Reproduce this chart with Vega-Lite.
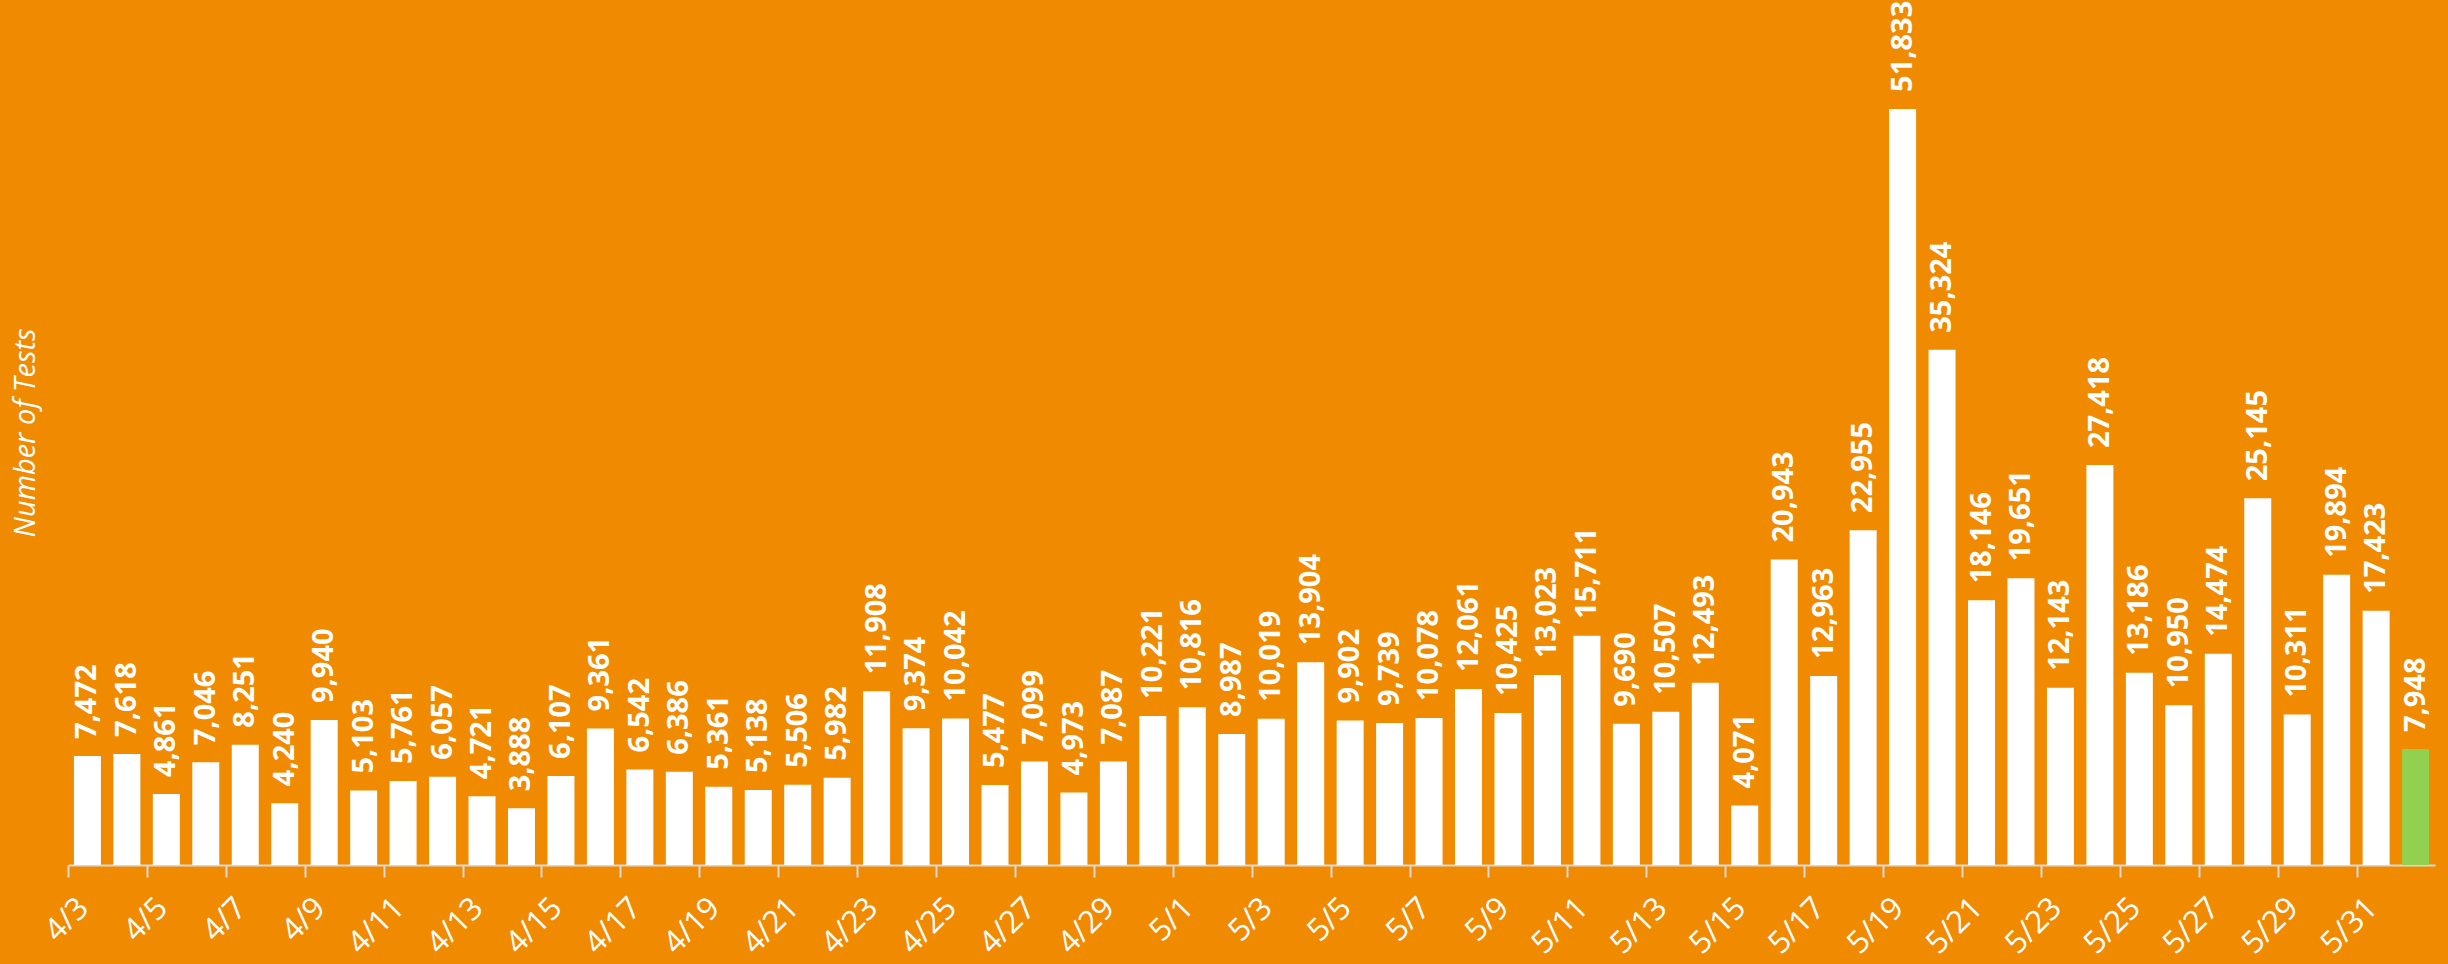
{
  "$schema": "https://vega.github.io/schema/vega-lite/v6.json",
  "autosize": {"type": "none"},
  "width": 2367,
  "height": 865,
  "padding": {"left": 68, "top": 0, "right": 13, "bottom": 99},
  "background": "#F08A00",
  "config": {"view": {"stroke": null}},
  "data": {"values": [
    {"date": "4/3", "tests": 7472}, {"date": "4/4", "tests": 7618}, {"date": "4/5", "tests": 4861},
    {"date": "4/6", "tests": 7046}, {"date": "4/7", "tests": 8251}, {"date": "4/8", "tests": 4240},
    {"date": "4/9", "tests": 9940}, {"date": "4/10", "tests": 5103}, {"date": "4/11", "tests": 5761},
    {"date": "4/12", "tests": 6057}, {"date": "4/13", "tests": 4721}, {"date": "4/14", "tests": 3888},
    {"date": "4/15", "tests": 6107}, {"date": "4/16", "tests": 9361}, {"date": "4/17", "tests": 6542},
    {"date": "4/18", "tests": 6386}, {"date": "4/19", "tests": 5361}, {"date": "4/20", "tests": 5138},
    {"date": "4/21", "tests": 5506}, {"date": "4/22", "tests": 5982}, {"date": "4/23", "tests": 11908},
    {"date": "4/24", "tests": 9374}, {"date": "4/25", "tests": 10042}, {"date": "4/26", "tests": 5477},
    {"date": "4/27", "tests": 7099}, {"date": "4/28", "tests": 4973}, {"date": "4/29", "tests": 7087},
    {"date": "4/30", "tests": 10221}, {"date": "5/1", "tests": 10816}, {"date": "5/2", "tests": 8987},
    {"date": "5/3", "tests": 10019}, {"date": "5/4", "tests": 13904}, {"date": "5/5", "tests": 9902},
    {"date": "5/6", "tests": 9739}, {"date": "5/7", "tests": 10078}, {"date": "5/8", "tests": 12061},
    {"date": "5/9", "tests": 10425}, {"date": "5/10", "tests": 13023}, {"date": "5/11", "tests": 15711},
    {"date": "5/12", "tests": 9690}, {"date": "5/13", "tests": 10507}, {"date": "5/14", "tests": 12493},
    {"date": "5/15", "tests": 4071}, {"date": "5/16", "tests": 20943}, {"date": "5/17", "tests": 12963},
    {"date": "5/18", "tests": 22955}, {"date": "5/19", "tests": 51833}, {"date": "5/20", "tests": 35324},
    {"date": "5/21", "tests": 18146}, {"date": "5/22", "tests": 19651}, {"date": "5/23", "tests": 12143},
    {"date": "5/24", "tests": 27418}, {"date": "5/25", "tests": 13186}, {"date": "5/26", "tests": 10950},
    {"date": "5/27", "tests": 14474}, {"date": "5/28", "tests": 25145}, {"date": "5/29", "tests": 10311},
    {"date": "5/30", "tests": 19894}, {"date": "5/31", "tests": 17423}, {"date": "6/1", "tests": 7948}
  ]},
  "encoding": {
    "x": {
      "field": "date", "type": "nominal", "sort": null,
      "scale": {"paddingInner": 0.316, "paddingOuter": 0.15},
      "axis": {
        "title": null,
        "values": ["4/3","4/5","4/7","4/9","4/11","4/13","4/15","4/17","4/19","4/21","4/23","4/25","4/27","4/29","5/1","5/3","5/5","5/7","5/9","5/11","5/13","5/15","5/17","5/19","5/21","5/23","5/25","5/27","5/29","5/31"],
        "bandPosition": 0,
        "tickOffset": -6,
        "domainColor": "#D9D9D9", "domainWidth": 2,
        "tickColor": "#D9D9D9", "tickWidth": 2, "tickSize": 12,
        "labelAngle": -45, "labelAlign": "right", "labelBaseline": "middle",
        "labelPadding": 26, "labelOffset": 2,
        "labelColor": "white", "labelFont": "Open Sans", "labelFontSize": 31,
        "labelOverlap": false
      }
    },
    "y": {
      "field": "tests", "type": "quantitative",
      "scale": {"domain": [0, 59300], "nice": false},
      "axis": {
        "title": "Number of Tests", "titleColor": "white", "titleFont": "Open Sans",
        "titleFontStyle": "italic", "titleFontWeight": "normal", "titleFontSize": 29,
        "titlePadding": 28,
        "labels": false, "ticks": false, "domain": false, "grid": false
      }
    }
  },
  "layer": [
    {
      "mark": {"type": "bar"},
      "encoding": {
        "color": {
          "condition": {"test": "datum.date === '6/1'", "value": "#92D050"},
          "value": "white"
        }
      }
    },
    {
      "mark": {"type": "text", "angle": -90, "align": "left", "baseline": "middle", "dx": 17,
               "font": "Open Sans", "fontWeight": "bold", "fontSize": 29, "color": "white"},
      "encoding": {"text": {"field": "tests", "type": "quantitative", "format": ","}}
    }
  ]
}
